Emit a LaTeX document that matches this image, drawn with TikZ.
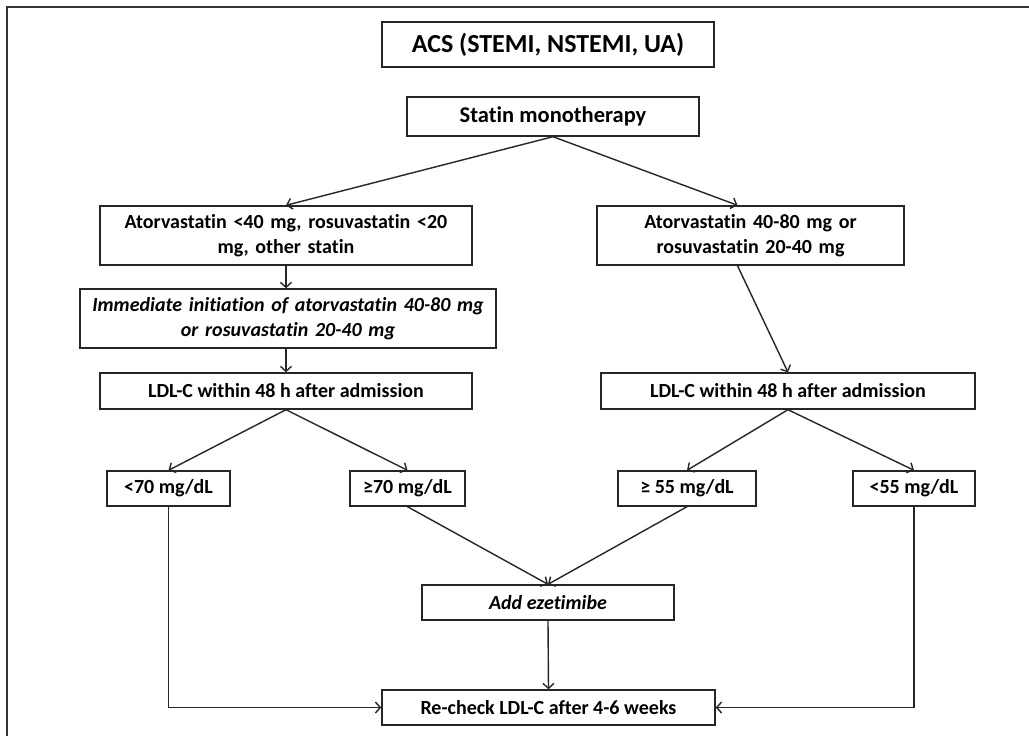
\documentclass[tikz,border=0pt]{standalone}
\usepackage{fontspec}
\setmainfont{Carlito}[Ligatures=NoCommon]
\usetikzlibrary{arrows.meta}

\tikzset{
  box/.style={draw=black!85, line width=1.4pt, inner sep=0pt, align=center,
    font=\fontsize{20}{25}\selectfont\bfseries},
  arr/.style={draw=black!85, line width=1.4pt, -{Straight Barb[length=5pt,width=11pt]}},
}

\begin{document}
\begin{tikzpicture}[x=1pt,y=-1pt]
      \useasboundingbox (0,0) rectangle (1029,736) ;
      \fill[white] (0,0) rectangle (1029,736) ;
      \draw[black!80, line width=2pt] (1029,7)--(7,7)--(7,736) ;
      % top of the chart
      \node[box, minimum width=332pt, minimum height=45pt, %
        font=\fontsize{26}{30}\selectfont\bfseries] (acs) at (548,44.5) %
        {ACS (STEMI, NSTEMI, UA)} ;
      \node[box, minimum width=292pt, minimum height=39pt, %
        font=\fontsize{22.5}{26}\selectfont\bfseries] (statin) at (553,116.5) %
        {Statin monotherapy} ;
      % left branch
      \node[box, minimum width=372pt, minimum height=59pt, text width=360pt] %
        (lowdose) at (286,235.5) %
        {Atorvastatin <40 mg, rosuvastatin <20\\ mg, other statin} ;
      \node[box, minimum width=416pt, minimum height=59pt, text width=410pt, %
        font=\fontsize{20}{25}\selectfont\bfseries\itshape] (initiate) at (288,318.5) %
        {Immediate initiation of atorvastatin 40-80 mg\\ or rosuvastatin 20-40 mg} ;
      \node[box, minimum width=372pt, minimum height=36pt] (ldlleft) at (286,391) %
        {LDL-C within 48 h after admission} ;
      % right branch
      \node[box, minimum width=307pt, minimum height=59pt, text width=280pt] %
        (highdose) at (750.5,235.5) %
        {Atorvastatin 40-80 mg or\\ rosuvastatin 20-40 mg} ;
      \node[box, minimum width=374pt, minimum height=36pt] (ldlright) at (788,391) %
        {LDL-C within 48 h after admission} ;
      % LDL-C levels
      \node[box, minimum width=123pt, minimum height=35pt] (lt70) at (168.5,488.5) %
        {<70 mg/dL} ;
      \node[box, minimum width=115pt, minimum height=35pt] (ge70) at (407.5,488.5) %
        {≥70 mg/dL} ;
      \node[box, minimum width=138pt, minimum height=35pt] (ge55) at (687,488.5) %
        {≥ 55 mg/dL} ;
      \node[box, minimum width=122pt, minimum height=35pt] (lt55) at (914,488.5) %
        {<55 mg/dL} ;
      % bottom
      \node[box, minimum width=252pt, minimum height=35pt, %
        font=\fontsize{20}{25}\selectfont\bfseries\itshape] (ezet) at (548,602.5) %
        {Add ezetimibe} ;
      \node[box, minimum width=333pt, minimum height=35pt] (recheck) at (548.5,707.5) %
        {Re-check LDL-C after 4-6 weeks} ;
      % connectors
      \draw[arr] (statin.south)--(lowdose.north) ;
      \draw[arr] (statin.south)--([xshift=-13pt]highdose.north) ;
      \draw[arr] (lowdose.south)--(lowdose.south |- initiate.north) ;
      \draw[arr] (lowdose.south |- initiate.south)--(ldlleft.north) ;
      \draw[arr] ([xshift=-13pt]highdose.south)--(ldlright.north) ;
      \draw[arr] (ldlleft.south)--(lt70.north) ;
      \draw[arr] (ldlleft.south)--(ge70.north) ;
      \draw[arr] (ldlright.south)--(ge55.north) ;
      \draw[arr] (ldlright.south)--(lt55.north) ;
      \draw[arr] (ge70.south)--(ezet.north) ;
      \draw[arr] (ge55.south)--(ezet.north) ;
      \draw[arr] (ezet.south)--(recheck.north) ;
      \draw[arr] (lt70.south) |- (recheck.west) ;
      \draw[arr] (lt55.south) |- (recheck.east) ;
    \end{tikzpicture}
\end{document}
